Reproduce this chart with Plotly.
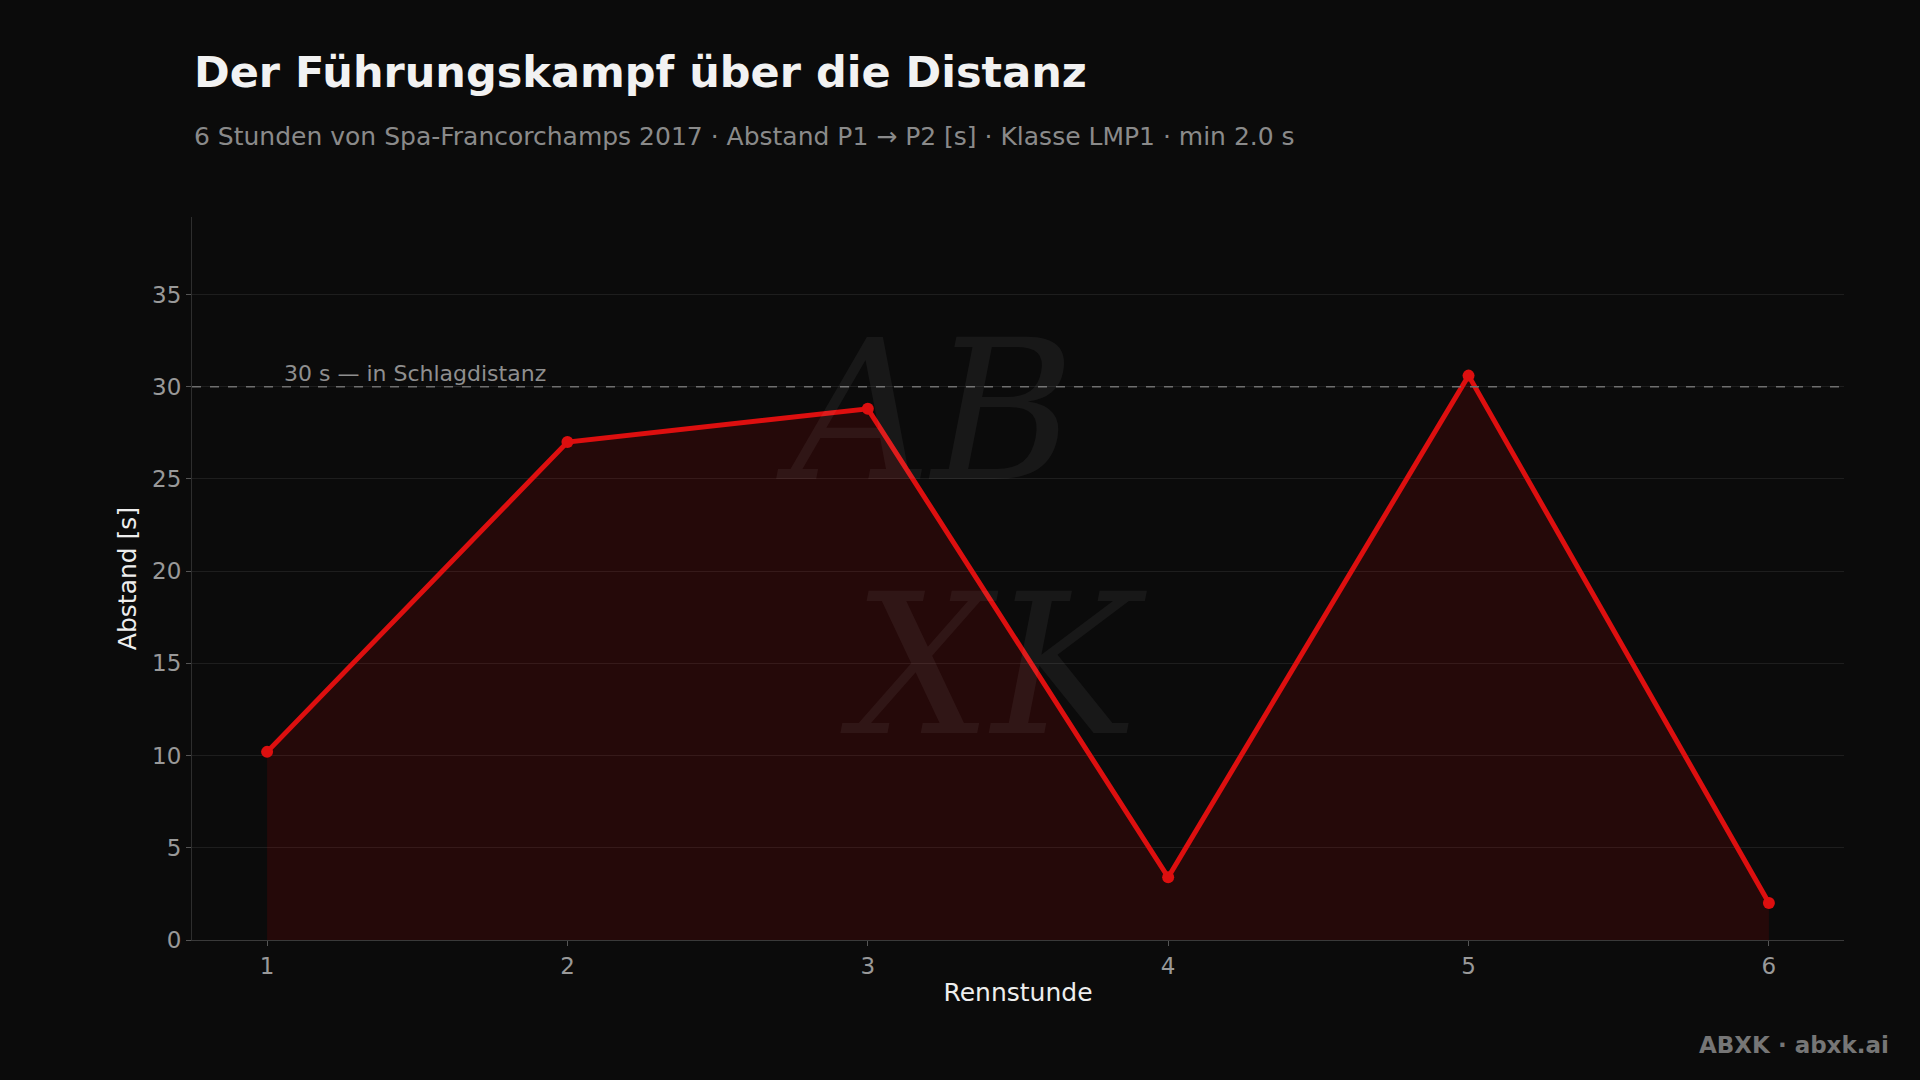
import plotly.graph_objects as go

hours = [1, 2, 3, 4, 5, 6]
gap_s = [10.2, 27.0, 28.8, 3.4, 30.6, 2.0]
threshold = 30
threshold_label = "30 s — in Schlagdistanz"
title = "Der Führungskampf über die Distanz"
subtitle = "6 Stunden von Spa-Francorchamps 2017 · Abstand P1 → P2 [s] · Klasse LMP1 · min 2.0 s"
x_title = "Rennstunde"
y_title = "Abstand [s]"
footer = "ABXK · abxk.ai"

BG = "#0b0b0b"
FONT = "DejaVu Sans"

fig = go.Figure()
fig.add_trace(go.Scatter(
    x=hours, y=gap_s, mode="lines+markers",
    line=dict(color="#dd0f0f", width=5),
    marker=dict(color="#dd0f0f", size=12),
    fill="tozeroy", fillcolor="rgba(220,0,0,0.13)",
    hoverinfo="x+y", showlegend=False,
))

fig.add_shape(type="line", xref="paper", x0=0, x1=1, yref="y", y0=threshold, y1=threshold,
              line=dict(color="#6f6f6f", width=1.5, dash="dash"), layer="above")
fig.add_annotation(x=1.05, y=threshold, xref="x", yref="y", text=threshold_label,
                   showarrow=False, xanchor="left", yanchor="bottom", yshift=-1,
                   font=dict(family=FONT, size=22, color="#8f8f8f"))

# watermark (single text block)
fig.add_annotation(x=0.466, y=0.555, xref="paper", yref="paper",
                   text="<i>AB</i><br>\u00a0<i>XK</i>", showarrow=False,
                   align="left", xanchor="center", yanchor="middle",
                   font=dict(family="DejaVu Serif", size=195, color="rgba(255,255,255,0.055)"))

# title & subtitle
fig.add_annotation(text=f"<b>{title}</b>", xref="paper", yref="paper", x=0, y=1.2006,
                   xanchor="left", yanchor="middle", showarrow=False,
                   font=dict(family=FONT, size=43, color="#f2f2f2"))
fig.add_annotation(text=subtitle, xref="paper", yref="paper", x=0, y=1.1107,
                   xanchor="left", yanchor="middle", showarrow=False,
                   font=dict(family=FONT, size=25, color="#8a8a8a"))

fig.add_annotation(text=f"<b>{footer}</b>", xref="paper", yref="paper", x=1.0285, y=-0.145,
                   xanchor="right", yanchor="middle", showarrow=False,
                   font=dict(family=FONT, size=23, color="#767676"))

fig.update_layout(
    width=1920, height=1080,
    paper_bgcolor=BG, plot_bgcolor=BG,
    font=dict(family=FONT, color="#999999"),
    margin=dict(l=192, r=76, t=217, b=140),
    xaxis=dict(
        range=[0.75, 6.25], tickmode="array", tickvals=hours, ticktext=[str(h) for h in hours],
        showgrid=False, zeroline=False,
        showline=True, linecolor="#3a3a3a", linewidth=1,
        ticks="outside", ticklen=5, tickcolor="#555555",
        tickfont=dict(size=23, color="#999999"),
        title=dict(text=x_title, font=dict(size=25, color="#eeeeee"), standoff=5),
    ),
    yaxis=dict(
        range=[0, 39.2], tickmode="array", tickvals=[0, 5, 10, 15, 20, 25, 30, 35],
        showgrid=True, gridcolor="#1e1e1e", gridwidth=1, zeroline=False,
        showline=True, linecolor="#2e2e2e", linewidth=1,
        ticks="outside", ticklen=5, tickcolor="#555555",
        tickfont=dict(size=23, color="#999999"),
        title=dict(text=y_title, font=dict(size=25, color="#eeeeee"), standoff=8),
    ),
)

fig.write_html("out.html", config={"displayModeBar": False},
               post_script="document.body.style.margin='0';document.body.style.overflow='hidden';")
